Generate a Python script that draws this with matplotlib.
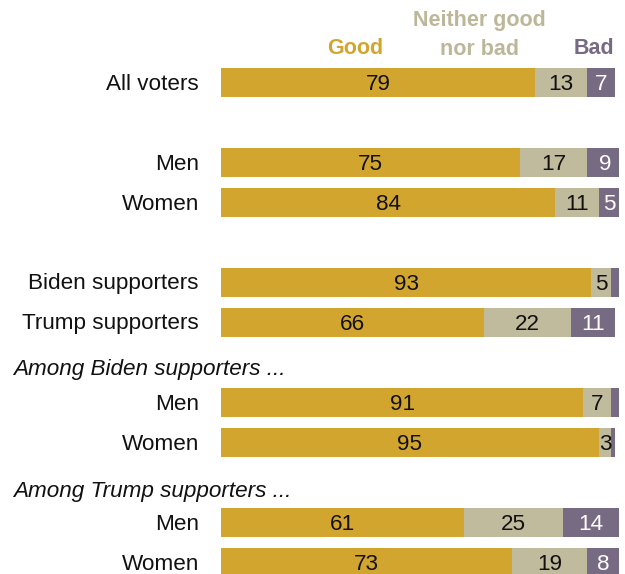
import matplotlib
matplotlib.use("Agg")
import matplotlib.pyplot as plt

plt.rcParams['font.family'] = ['Liberation Sans', 'DejaVu Sans']

# Survey responses (%)
groups = ["All voters", "Men", "Women", "Biden supporters", "Trump supporters",
          "Men", "Women", "Men", "Women"]
good = [79, 75, 84, 93, 66, 91, 95, 61, 73]
neither = [13, 17, 11, 5, 22, 7, 3, 25, 19]
bad = [7, 9, 5, 2, 11, 2, 1, 14, 8]
section_titles = ["Among Biden supporters ...", "Among Trump supporters ..."]
legend_labels = ["Good", "Neither good\nnor bad", "Bad"]

# Layout (vertical positions in pixel rows)
W, H = 625, 574
row_y = [82, 162, 202, 282, 322, 402, 442, 522, 562]
section_y = [368, 490]
bar_h = 29
x0_px, x1_px = 221, 619

c_good = "#d2a52f"
c_neither = "#c1bb9d"
c_bad = "#776a83"

fig = plt.figure(figsize=(W / 100, H / 100), dpi=100)
ax = fig.add_axes([x0_px / W, 0, (x1_px - x0_px) / W, 1])
ax.set_xlim(0, 100)
ax.set_ylim(H, 0)
ax.axis("off")

ax.barh(row_y, good, height=bar_h, color=c_good)
ax.barh(row_y, neither, left=good, height=bar_h, color=c_neither)
left_bad = [g + n for g, n in zip(good, neither)]
ax.barh(row_y, bad, left=left_bad, height=bar_h, color=c_bad)

fs = 16.2
dy = 2
for y, g, n, b, lb in zip(row_y, good, neither, bad, left_bad):
    ax.text(g / 2, y + dy, str(g), ha="center", va="center", fontsize=fs, color="#111111")
    if n >= 3:
        ax.text(g + n / 2, y + dy, str(n), ha="center", va="center", fontsize=fs, color="#111111")
    if b >= 4:
        ax.text(lb + b / 2, y + dy, str(b), ha="center", va="center", fontsize=fs, color="white")

# Row labels
lab_ax = fig.add_axes([0, 0, 1, 1])
lab_ax.set_xlim(0, W)
lab_ax.set_ylim(H, 0)
lab_ax.axis("off")
for y, name in zip(row_y, groups):
    lab_ax.text(199, y + dy, name, ha="right", va="center", fontsize=fs, color="#111111")
for y, t in zip(section_y, section_titles):
    lab_ax.text(13, y + dy, t, ha="left", va="center", fontsize=fs, style="italic", color="#111111")

# Column headers
lab_ax.text(355, 48, legend_labels[0], ha="center", va="center", fontsize=15.5,
            fontweight="bold", color=c_good)
lab_ax.text(479, 35, legend_labels[1], ha="center", va="center", fontsize=15.5,
            fontweight="bold", color="#bdb79a", linespacing=1.45)
lab_ax.text(614, 48, legend_labels[2], ha="right", va="center", fontsize=15.5,
            fontweight="bold", color=c_bad)

fig.savefig("out.png", dpi=100, facecolor="white")
